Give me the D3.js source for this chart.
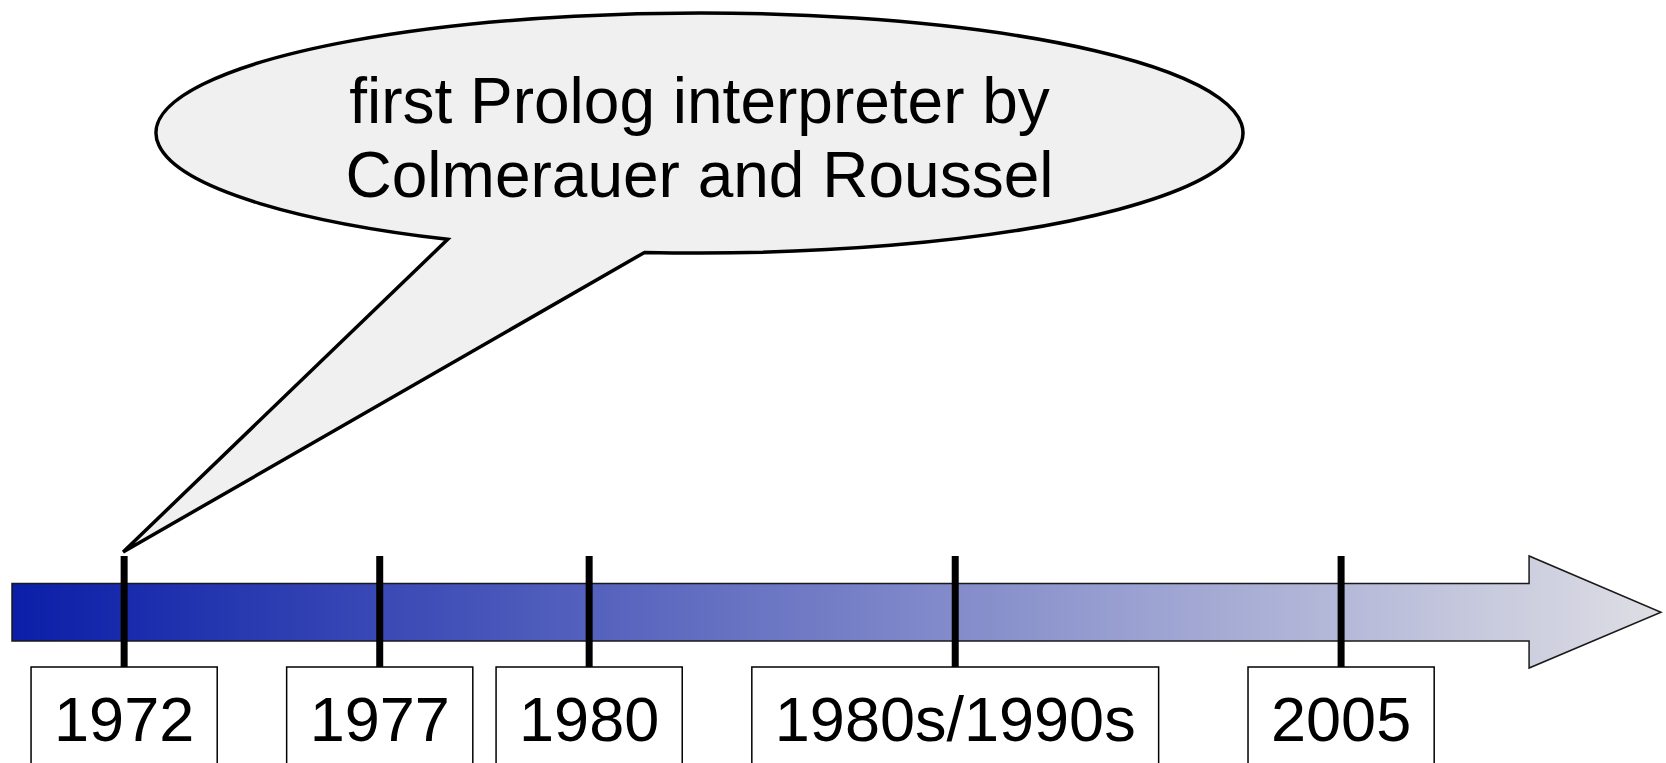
<!DOCTYPE html>
<html>
<head>
<meta charset="utf-8">
<script src="https://cdn.jsdelivr.net/npm/d3@7"></script>
<style>
  body { margin: 0; background: #fff; }
  svg { display: block; }
</style>
</head>
<body>
<div id="chart"><svg></svg></div>
<script>
// timeline events, and where each sits along the arrow (% of its length)
var events = ["1972", "1977", "1980", "1980s/1990s", "2005"];
var eventAt = [6.8, 22.3, 35.0, 57.2, 80.6];
var headAt = 92.0; // where the arrow head starts, same units
var calloutLines = ["first Prolog interpreter by", "Colmerauer and Roussel"];
var calloutEvent = 0; // index into events

var width = 1666;
var height = 763;
var font = "'Liberation Sans', Arial, sans-serif";

var svg = d3.select("#chart").select("svg")
    .attr("width", width)
    .attr("height", height);

var x = d3.scaleLinear()
    .domain([0, 100])
    .range([12, 1661]);

var bar = {top: 583.5, bottom: 641, headTop: 556, headBottom: 668};
var mid = (bar.top + bar.bottom) / 2;

// gradient for the arrow
var grad = svg.append("defs").append("linearGradient")
    .attr("id", "arrowGrad")
    .attr("gradientUnits", "userSpaceOnUse")
    .attr("x1", x(0)).attr("x2", x(100))
    .attr("y1", 0).attr("y2", 0);
grad.append("stop").attr("offset", "0%").attr("stop-color", "#0a1ea8");
grad.append("stop").attr("offset", "100%").attr("stop-color", "#dedee4");

var arrowPts = [
    [x(0), bar.top], [x(headAt), bar.top], [x(headAt), bar.headTop],
    [x(100), mid],
    [x(headAt), bar.headBottom], [x(headAt), bar.bottom], [x(0), bar.bottom]
];
svg.append("path")
    .attr("d", d3.line()(arrowPts) + "Z")
    .attr("fill", "url(#arrowGrad)")
    .attr("stroke", "#1a1a1a")
    .attr("stroke-width", 1.5)
    .attr("stroke-linejoin", "miter");

// callout bubble
var ell = {cx: 699.5, cy: 133, rx: 543.5, ry: 120};
function onEllipse(deg) {
    var a = deg * Math.PI / 180;
    return [ell.cx + ell.rx * Math.cos(a), ell.cy + ell.ry * Math.sin(a)];
}
var baseA = onEllipse(117.6), baseB = onEllipse(95.8);
var tip = [x(eventAt[calloutEvent]) - 1, bar.headTop - 4];
var bubble = "M" + baseA[0] + "," + baseA[1]
    + "A" + ell.rx + "," + ell.ry + " 0 1 1 " + baseB[0] + "," + baseB[1]
    + "L" + tip[0] + "," + tip[1] + "Z";
svg.append("path")
    .attr("d", bubble)
    .attr("fill", "#f0f0f0")
    .attr("stroke", "#000")
    .attr("stroke-width", 3.5)
    .attr("stroke-linejoin", "miter");

svg.append("g").selectAll("text")
    .data(calloutLines)
    .enter().append("text")
    .attr("x", ell.cx)
    .attr("y", function(d, i) { return 123 + i * 74; })
    .attr("text-anchor", "middle")
    .attr("font-family", font)
    .attr("font-size", 64)
    .attr("fill", "#000")
    .text(function(d) { return d; });

// event ticks
svg.append("g").selectAll("line")
    .data(eventAt)
    .enter().append("line")
    .attr("x1", function(d) { return x(d); })
    .attr("x2", function(d) { return x(d); })
    .attr("y1", bar.headTop)
    .attr("y2", 667)
    .attr("stroke", "#000")
    .attr("stroke-width", 7);

// label boxes
var labels = svg.append("g").selectAll("g")
    .data(events)
    .enter().append("g")
    .attr("transform", function(d, i) { return "translate(" + x(eventAt[i]) + ",0)"; });

var rects = labels.append("rect")
    .attr("y", 667)
    .attr("height", 150)
    .attr("fill", "#fff")
    .attr("stroke", "#000")
    .attr("stroke-width", 1.5);

var texts = labels.append("text")
    .attr("y", 741)
    .attr("text-anchor", "middle")
    .attr("font-family", font)
    .attr("font-size", 63)
    .attr("fill", "#000")
    .text(function(d) { return d; });

texts.each(function(d, i) {
    var w = this.getComputedTextLength() + 46;
    d3.select(rects.nodes()[i])
        .attr("x", -w / 2)
        .attr("width", w);
});
</script>
</body>
</html>
